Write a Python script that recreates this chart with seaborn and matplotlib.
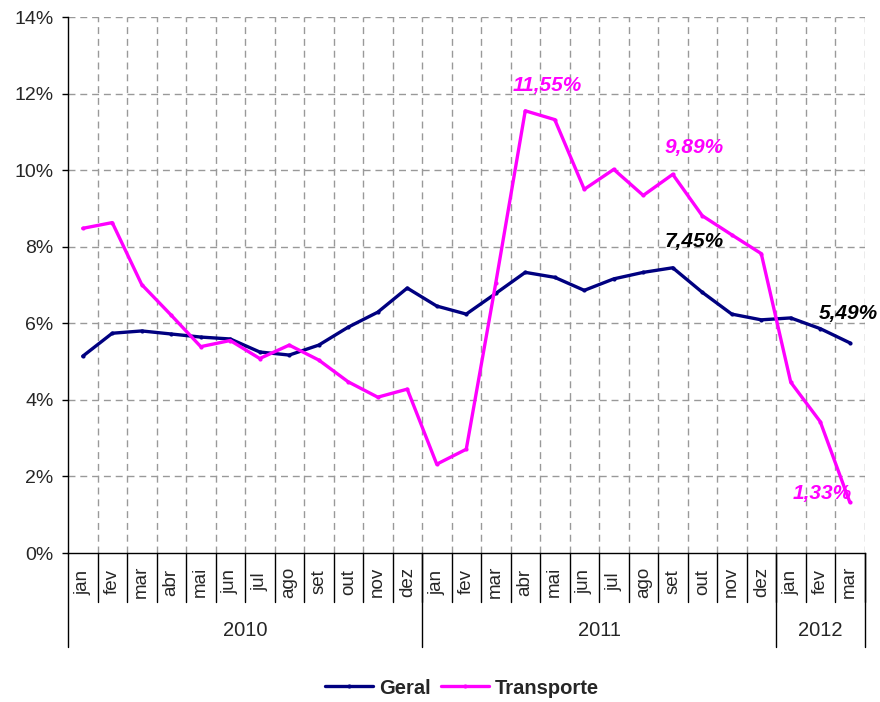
import matplotlib
matplotlib.use("Agg")
import matplotlib.pyplot as plt
import seaborn as sns
import pandas as pd
import numpy as np
from matplotlib.ticker import FuncFormatter

months = ["jan", "fev", "mar", "abr", "mai", "jun", "jul", "ago", "set", "out", "nov", "dez",
          "jan", "fev", "mar", "abr", "mai", "jun", "jul", "ago", "set", "out", "nov", "dez",
          "jan", "fev", "mar"]
years = ["2010", "2011", "2012"]
year_lengths = [12, 12, 3]

geral = [5.14, 5.74, 5.80, 5.72, 5.64, 5.59, 5.25, 5.17, 5.43, 5.90, 6.29, 6.92,
         6.45, 6.24, 6.78, 7.33, 7.20, 6.86, 7.16, 7.33, 7.45, 6.81, 6.24, 6.09,
         6.14, 5.86, 5.49]
transporte = [8.48, 8.63, 7.01, 6.21, 5.39, 5.55, 5.08, 5.43, 5.04, 4.47, 4.07, 4.28,
              2.32, 2.71, 7.05, 11.55, 11.32, 9.50, 10.02, 9.34, 9.89, 8.81, 8.31, 7.82,
              4.46, 3.43, 1.33]
series_names = ["Geral", "Transporte"]
colors = {"Geral": "#000080", "Transporte": "#FF00FF"}

# annotations: (series, index, text)
labels = [("Transporte", 15, "11,55%"), ("Transporte", 20, "9,89%"),
          ("Geral", 20, "7,45%"), ("Geral", 26, "5,49%"), ("Transporte", 26, "1,33%")]
label_offsets = {"11,55%": (22, 25), "9,89%": (21, 27), "7,45%": (21, 26),
                 "5,49%": (-1, 29), "1,33%": (-28, 9)}
label_colors = {"11,55%": "#FF00FF", "9,89%": "#FF00FF", "7,45%": "black",
                "5,49%": "black", "1,33%": "#FF00FF"}

n = len(months)
df = pd.DataFrame({
    "x": list(range(n)) * 2,
    "valor": geral + transporte,
    "serie": ["Geral"] * n + ["Transporte"] * n,
})

sns.set_theme(style="white")
plt.rcParams["font.family"] = ["Liberation Sans", "DejaVu Sans"]

fig = plt.figure(figsize=(8.8, 7.02), dpi=100)
ax = fig.add_axes([68 / 880, 1 - 553 / 702, 796.5 / 880, 536 / 702])

sns.lineplot(data=df, x="x", y="valor", hue="serie", hue_order=series_names,
             palette=colors, marker="o", markersize=3, markeredgewidth=0,
             linewidth=2.4, ax=ax, zorder=3)

ax.set_xlim(-0.5, n - 0.5)
ax.set_ylim(0, 14)
ax.set_yticks(np.arange(0, 15, 2))
ax.yaxis.set_major_formatter(FuncFormatter(lambda v, p: f"{int(v)}%"))
ax.tick_params(axis="y", direction="out", length=4.5, width=1, color="black",
               labelsize=14, pad=6, left=True)
ax.set_xticks([])
ax.set_xlabel("")
ax.set_ylabel("")

# grid
dash = (0, (5, 3.5))
for yv in np.arange(2, 15, 2):
    ax.axhline(yv, color="#999999", lw=1, ls=dash, zorder=1)
for k in range(n):
    ax.axvline(k + 0.5, color="#999999", lw=1, ls=dash, zorder=1)

for s in ["top", "right"]:
    ax.spines[s].set_visible(False)
ax.spines["left"].set_color("black")
ax.spines["bottom"].set_color("black")
ax.spines["left"].set_linewidth(1)
ax.spines["bottom"].set_linewidth(1)

# category axis: month labels and separators
trans = ax.get_xaxis_transform()
month_sep_y = -49 / 536
year_sep_y = -94 / 536
for i, m in enumerate(months):
    ax.text(i, -29 / 536, m, rotation=90, ha="center", va="center",
            fontsize=13.5, transform=trans)
for k in range(1, n + 1):
    ax.plot([k - 0.5, k - 0.5], [0, month_sep_y], color="black", lw=1,
            transform=trans, clip_on=False)
start = 0
bounds = [-0.5]
for y, L in zip(years, year_lengths):
    ax.text(start + (L - 1) / 2, -78 / 536, y, ha="center", va="center",
            fontsize=14.5, transform=trans)
    start += L
    bounds.append(start - 0.5)
for b in bounds:
    ax.plot([b, b], [0, year_sep_y], color="black", lw=1, transform=trans,
            clip_on=False)

# data labels
series_vals = {"Geral": geral, "Transporte": transporte}
for s, idx, txt in labels:
    dx, dy = label_offsets[txt]
    ax.annotate(txt, (idx, series_vals[s][idx]), xytext=(dx, dy),
                textcoords="offset pixels", ha="center", va="center",
                fontsize=15, fontweight="bold", fontstyle="italic",
                color=label_colors[txt], zorder=5)

sns.move_legend(ax, "center", bbox_to_anchor=((462 - 68) / 796.5, -135 / 536),
                ncol=2, frameon=False, title=None, handlelength=2.4,
                handletextpad=0.3, columnspacing=0.5,
                prop={"weight": "bold", "size": 14.5})

fig.savefig("out.png", dpi=100)
